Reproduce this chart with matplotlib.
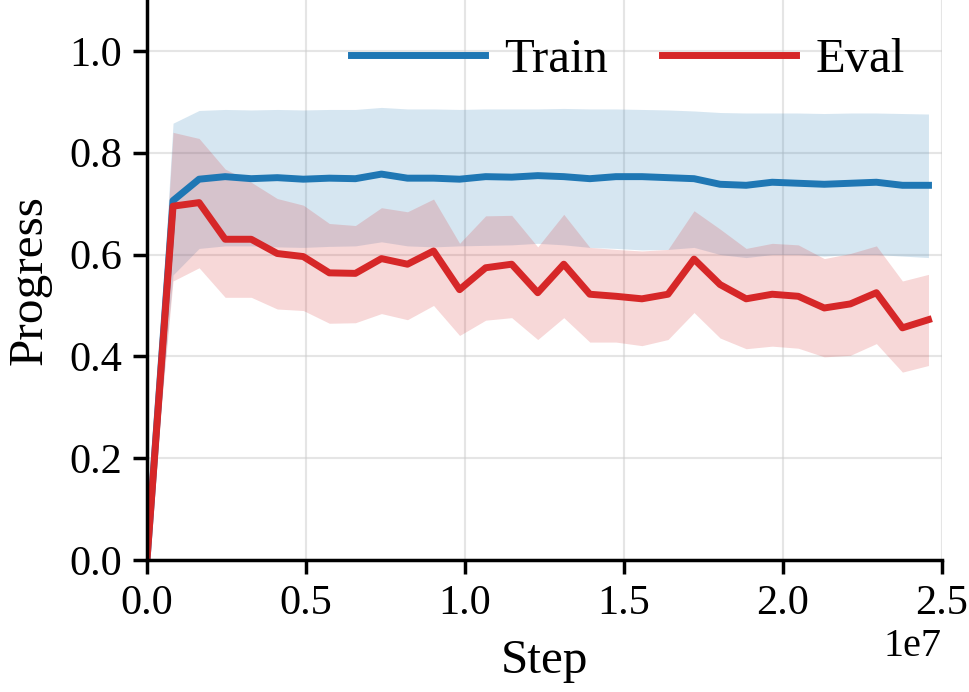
import numpy as np
import matplotlib
matplotlib.use("Agg")
import matplotlib.pyplot as plt

# evaluation checkpoints (steps)
steps = np.arange(31) * 819200

train_mean = [0.0, 0.706, 0.748, 0.753, 0.749, 0.751, 0.748, 0.750, 0.749, 0.758,
              0.750, 0.750, 0.748, 0.753, 0.752, 0.755, 0.753, 0.749, 0.753, 0.753,
              0.751, 0.749, 0.738, 0.736, 0.742, 0.740, 0.738, 0.740, 0.742, 0.736, 0.736]
train_upper = [0.0, 0.858, 0.883, 0.885, 0.884, 0.885, 0.884, 0.885, 0.885, 0.889,
               0.886, 0.886, 0.885, 0.886, 0.886, 0.886, 0.887, 0.886, 0.886, 0.885,
               0.884, 0.882, 0.879, 0.878, 0.878, 0.878, 0.877, 0.878, 0.878, 0.877, 0.876]
train_lower = [0.0, 0.560, 0.612, 0.617, 0.617, 0.615, 0.614, 0.616, 0.617, 0.625,
               0.617, 0.615, 0.617, 0.618, 0.619, 0.622, 0.619, 0.614, 0.612, 0.609,
               0.610, 0.614, 0.600, 0.594, 0.600, 0.600, 0.597, 0.600, 0.600, 0.597, 0.594]

eval_mean = [0.0, 0.695, 0.702, 0.630, 0.630, 0.602, 0.596, 0.564, 0.563, 0.592,
             0.581, 0.607, 0.531, 0.574, 0.581, 0.525, 0.581, 0.522, 0.518, 0.513,
             0.522, 0.591, 0.541, 0.513, 0.522, 0.518, 0.495, 0.503, 0.525, 0.456, 0.472]
eval_upper = [0.0, 0.840, 0.828, 0.768, 0.742, 0.710, 0.697, 0.661, 0.657, 0.692,
              0.684, 0.709, 0.622, 0.676, 0.677, 0.615, 0.679, 0.614, 0.610, 0.607,
              0.610, 0.686, 0.650, 0.612, 0.622, 0.619, 0.592, 0.602, 0.617, 0.548, 0.561]
eval_lower = [0.0, 0.548, 0.574, 0.516, 0.516, 0.493, 0.490, 0.465, 0.466, 0.484,
              0.472, 0.500, 0.441, 0.471, 0.476, 0.433, 0.476, 0.428, 0.428, 0.421,
              0.433, 0.486, 0.436, 0.415, 0.420, 0.416, 0.399, 0.402, 0.425, 0.369, 0.382]

plt.rcParams['font.family'] = ['Liberation Serif', 'DejaVu Serif']

fig = plt.figure(figsize=(9.69, 6.92), dpi=100)
ax = fig.add_axes([0.1517, 0.1908, 0.8204, 0.8092])

blue = '#1f77b4'
red = '#d62728'

ax.fill_between(steps, train_lower, train_upper, color=blue, alpha=0.18, linewidth=0)
ax.fill_between(steps, eval_lower, eval_upper, color=red, alpha=0.18, linewidth=0)
ax.plot(steps, train_mean, color=blue, linewidth=5, label='Train')
ax.plot(steps, eval_mean, color=red, linewidth=5, label='Eval')

ax.set_xlim(0, 2.5e7)
ax.set_ylim(0, 1.1)
ax.set_yticks([0.0, 0.2, 0.4, 0.6, 0.8, 1.0])
ax.set_xticks([0, 0.5e7, 1.0e7, 1.5e7, 2.0e7, 2.5e7])

ax.grid(True, color='#cccccc', alpha=0.5, linewidth=1.5)
ax.set_axisbelow(True)

for s in ['top', 'right']:
    ax.spines[s].set_visible(False)
for s in ['left', 'bottom']:
    ax.spines[s].set_linewidth(2.5)

ax.tick_params(axis='both', labelsize=30.5, width=2.5, length=10)
ax.tick_params(axis='y', pad=8)
ax.tick_params(axis='x', pad=8)
ax.xaxis.get_offset_text().set_fontsize(29)

ax.set_xlabel('Step', fontsize=35.5, labelpad=11)
ax.set_ylabel('Progress', fontsize=35.5, labelpad=13)

ax.legend(loc='upper right', ncol=2, frameon=False, fontsize=35,
          handlelength=2.76, handletextpad=0.4, columnspacing=1.1,
          borderaxespad=0.2, bbox_to_anchor=(0.99, 0.985))

fig.savefig('out.png', dpi=100)
